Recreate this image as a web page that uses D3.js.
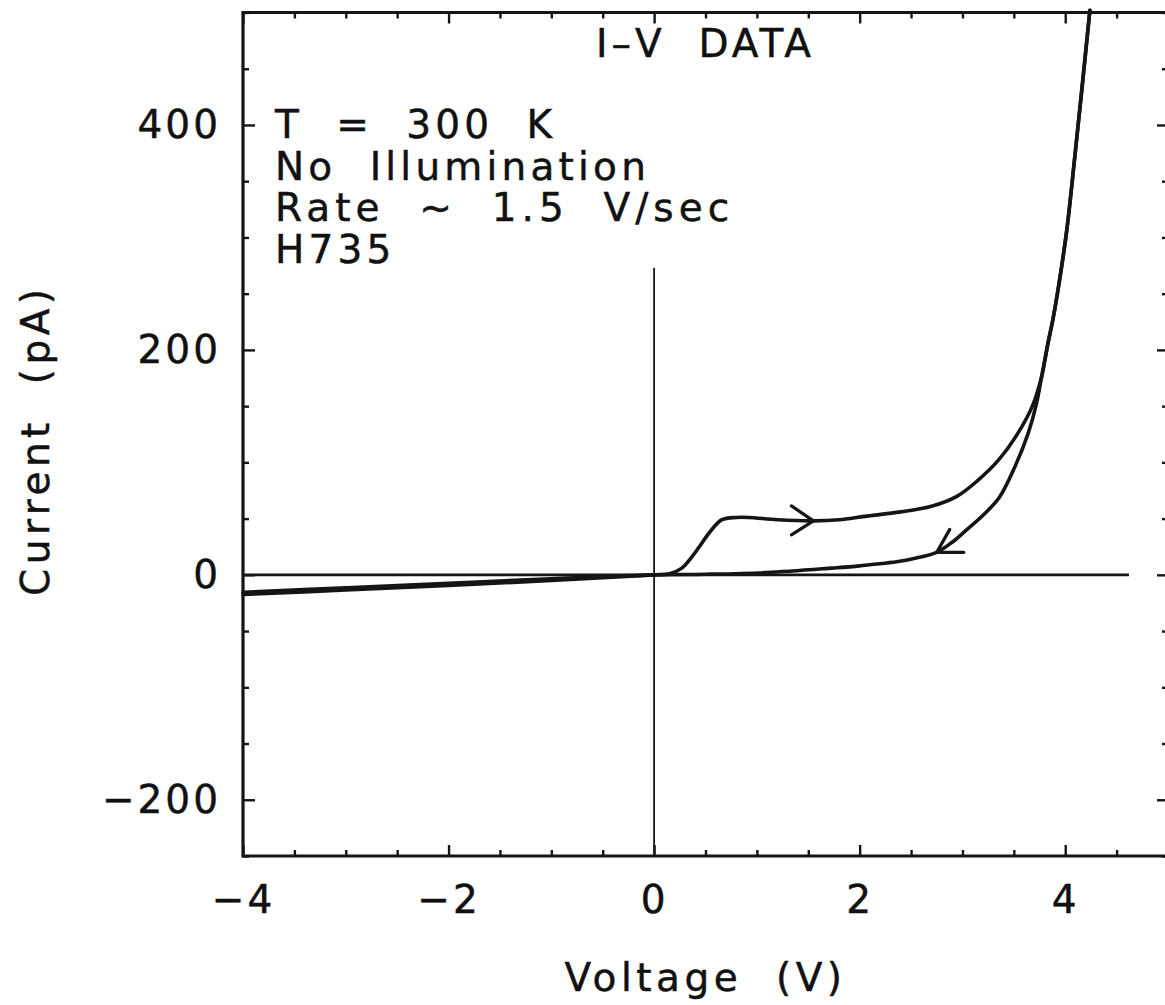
<!DOCTYPE html>
<html>
<head>
<meta charset="utf-8">
<script src="https://cdn.jsdelivr.net/npm/d3@7"></script>
<style>
  html, body { margin: 0; padding: 0; background: #fff; overflow: hidden; }
  svg { display: block; }
  svg text { font-family: "DejaVu Sans", sans-serif; fill: #111; }
</style>
</head>
<body>
<svg id="chart" width="1165" height="1005"></svg>
<script>
// ---- data ----
const forwardV = [-4, -3, -2, -1, 0, 0.15, 0.27, 0.35, 0.44, 0.55, 0.66, 0.8, 0.92, 1.2, 1.55, 1.8, 2.05, 2.4, 2.7, 2.95, 3.15, 3.35, 3.54, 3.68, 3.77, 3.83, 3.88, 3.95, 4.02, 4.09, 4.16, 4.24];
const forwardI = [-17.5, -13.5, -9.5, -5, 0, 1, 6, 14, 25, 39, 49, 51, 51, 49, 48, 49, 52, 56, 61, 70, 84, 102, 126, 150, 176, 205, 227, 265, 310, 369, 430, 502];
const reverseV = [4.24, 4.16, 4.09, 4.02, 3.95, 3.88, 3.83, 3.77, 3.72, 3.64, 3.51, 3.36, 3.2, 3.04, 2.9, 2.75, 2.55, 2.39, 2.0, 1.73, 1.09, 0.5, 0, -1, -2, -3, -4];
const reverseI = [502, 430, 369, 310, 265, 227, 205, 176, 152, 126, 96, 69, 53, 40, 29, 20, 15, 12, 8, 6, 2, 0.5, 0, -3.5, -7.5, -11.5, -15.5];
const xMajorTicks = [-4, -2, 0, 2, 4];
const xMinorTicks = [-3.5, -3, -2.5, -1.5, -1, -0.5, 0.5, 1, 1.5, 2.5, 3, 3.5, 4.5];
const yMajorTicks = [-200, 0, 200, 400];
const yMinorTicks = [-250, -150, -100, -50, 50, 100, 150, 250, 300, 350, 450, 500];
const forwardArrow = {v: 1.55, i: 48};
const reverseArrow = {v: 2.75, i: 20};
const zeroLineEnd = 4.62;
const vLineTop = 273;
const title = "I\u2013V  DATA";
const notes = ["T  =  300  K", "No  Illumination", "Rate  ~  1.5  V/sec", "H735"];
const xLabel = "Voltage  (V)";
const yLabel = "Current  (pA)";

// ---- layout ----
const svg = d3.select("#chart");
const x = d3.scaleLinear().domain([-4, 5]).range([243, 1168]);
const y = d3.scaleLinear().domain([-250, 500]).range([856, 12.5]);
const ink = "#151515";
const fs = 39;

function styleAxis(g) {
  g.select(".domain").remove();
  g.selectAll(".tick line").attr("stroke", ink).attr("stroke-width", 2.4);
  g.selectAll("text").attr("font-size", fs).attr("letter-spacing", 3)
    .attr("font-family", "DejaVu Sans").attr("fill", ink)
    .attr("stroke", ink).attr("stroke-width", 0.5);
}

// frame (drawn first, ticks on top)
svg.append("path")
  .attr("d", `M${x(-4)},${y(-250)} V${y(500)} H${x(5)} V${y(-250)} Z`)
  .attr("fill", "none").attr("stroke", ink).attr("stroke-width", 3.2);

// bottom
svg.append("g").attr("transform", `translate(0,${y(-250)})`)
  .call(d3.axisBottom(x).tickValues(xMajorTicks).tickSize(-11).tickPadding(29)
    .tickFormat(d => d3.format("")(d)))
  .call(styleAxis);
svg.append("g").attr("transform", `translate(0,${y(-250)})`)
  .call(d3.axisBottom(x).tickValues(xMinorTicks).tickSize(-6).tickFormat(""))
  .call(styleAxis);
// top
svg.append("g").attr("transform", `translate(0,${y(500)})`)
  .call(d3.axisTop(x).tickValues(xMajorTicks).tickSize(-11).tickFormat(""))
  .call(styleAxis);
svg.append("g").attr("transform", `translate(0,${y(500)})`)
  .call(d3.axisTop(x).tickValues(xMinorTicks).tickSize(-6).tickFormat(""))
  .call(styleAxis);
// left
svg.append("g").attr("transform", `translate(${x(-4)},0)`)
  .call(d3.axisLeft(y).tickValues(yMajorTicks).tickSize(-12).tickPadding(22))
  .call(styleAxis);
svg.append("g").attr("transform", `translate(${x(-4)},0)`)
  .call(d3.axisLeft(y).tickValues(yMinorTicks).tickSize(-6).tickFormat(""))
  .call(styleAxis);
// right
svg.append("g").attr("transform", `translate(${x(5)},0)`)
  .call(d3.axisRight(y).tickValues(yMajorTicks).tickSize(-11).tickFormat(""))
  .call(styleAxis);
svg.append("g").attr("transform", `translate(${x(5)},0)`)
  .call(d3.axisRight(y).tickValues(yMinorTicks).tickSize(-6).tickFormat(""))
  .call(styleAxis);

// zero lines
svg.append("line")
  .attr("x1", x(-4)).attr("x2", x(zeroLineEnd))
  .attr("y1", y(0)).attr("y2", y(0))
  .attr("stroke", ink).attr("stroke-width", 2.8);
svg.append("line")
  .attr("x1", x(0)).attr("x2", x(0))
  .attr("y1", y(vLineTop)).attr("y2", y(-250))
  .attr("stroke", ink).attr("stroke-width", 1.8);

// curves
const line = d3.line().x(d => x(d[0])).y(d => y(d[1])).curve(d3.curveCatmullRom.alpha(0.5));
const fwd = forwardV.map((v, k) => [v, forwardI[k]]);
const rev = reverseV.map((v, k) => [v, reverseI[k]]);
[fwd, rev].forEach(data => {
  svg.append("path").datum(data).attr("d", line)
    .attr("fill", "none").attr("stroke", ink).attr("stroke-width", 3.6)
    .attr("stroke-linejoin", "round").attr("stroke-linecap", "round");
});

// arrowheads (open chevrons)
function chevron(p, arms) {
  const tx = x(p.v), ty = y(p.i);
  arms.forEach(a => {
    svg.append("line").attr("x1", tx).attr("y1", ty)
      .attr("x2", tx + a[0]).attr("y2", ty + a[1])
      .attr("stroke", ink).attr("stroke-width", 3.2).attr("stroke-linecap", "round");
  });
}
chevron(forwardArrow, [[-22, -15], [-22, 14]]);
chevron(reverseArrow, [[13, -23], [27, 0]]);

// texts
function txt(sel) {
  return sel.attr("font-size", fs).attr("fill", ink)
    .attr("stroke", ink).attr("stroke-width", 0.5)
    .style("white-space", "pre");
}
txt(svg.append("text").attr("x", x(0.5)).attr("y", 57).attr("text-anchor", "middle")
  .attr("letter-spacing", 4)).text(title);
notes.forEach((t, k) => {
  txt(svg.append("text").attr("x", 275).attr("y", 138 + k * 41.5)
    .attr("letter-spacing", k === 2 ? 5 : 4.2)).text(t);
});
txt(svg.append("text").attr("x", x(0.5)).attr("y", 991).attr("text-anchor", "middle")
  .attr("letter-spacing", 4.5)).text(xLabel);
txt(svg.append("text").attr("transform", `translate(49,${y(125) + 6}) rotate(-90)`)
  .attr("text-anchor", "middle").attr("letter-spacing", 4.5)).text(yLabel);
</script>
</body>
</html>
